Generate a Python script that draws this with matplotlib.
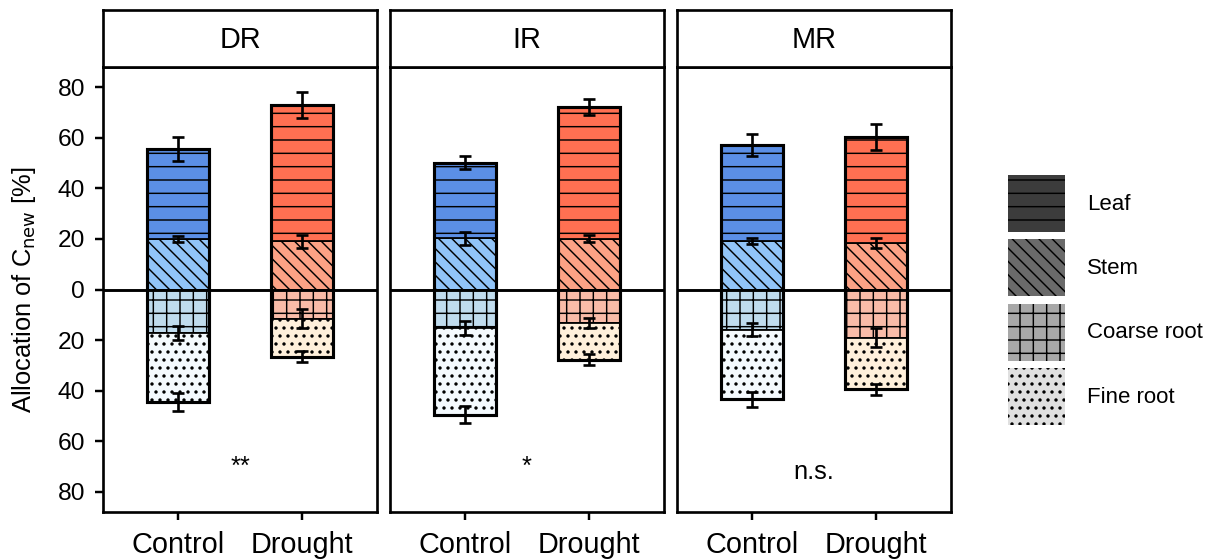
import matplotlib
matplotlib.use("Agg")
import matplotlib.pyplot as plt
import matplotlib.hatch as mhatch
from matplotlib.patches import Patch
from matplotlib.ticker import FuncFormatter

plt.rcParams['font.family'] = ['Liberation Sans', 'DejaVu Sans']
plt.rcParams['hatch.linewidth'] = 1.3


# finer dot pattern than matplotlib's default '.' hatch
class FineDots(mhatch.Circles):
    size = 0.12
    filled = True

    def __init__(self, hatch, density):
        self.num_rows = int(round(hatch.count('.') * density * 1.65))
        super().__init__(hatch, density)


mhatch._hatch_types = [FineDots if t is mhatch.SmallFilledCircles else t
                       for t in mhatch._hatch_types]

# sites (facets) and treatments
sites = ["DR", "IR", "MR"]
treatments = ["Control", "Drought"]
organs = ["Leaf", "Stem", "Coarse root", "Fine root"]
signif = ["**", "*", "n.s."]

# allocation of C_new [%] per organ, [Control, Drought]
stem = {"DR": [19.8, 19.0], "IR": [20.2, 20.0], "MR": [19.2, 18.4]}
leaf = {"DR": [35.7, 54.0], "IR": [30.0, 52.2], "MR": [37.9, 42.0]}
coarse = {"DR": [17.2, 11.5], "IR": [15.3, 13.2], "MR": [15.9, 19.0]}
fine = {"DR": [27.3, 15.0], "IR": [34.2, 14.5], "MR": [27.6, 20.5]}

# standard errors
stem_se = {"DR": [1.2, 2.4], "IR": [2.6, 1.4], "MR": [1.2, 1.8]}
leaf_se = {"DR": [4.8, 5.2], "IR": [2.5, 3.0], "MR": [4.4, 5.1]}
coarse_se = {"DR": [2.6, 3.8], "IR": [2.8, 1.9], "MR": [2.6, 3.6]}
fine_se = {"DR": [3.4, 2.3], "IR": [3.4, 2.1], "MR": [3.0, 2.3]}

# colours: [Control, Drought]
leaf_col = ["#5B8FE6", "#FF7052"]
stem_col = ["#91C4F8", "#FCA285"]
coarse_col = ["#C0DCEE", "#F9BCA8"]
fine_col = ["#F4FAFE", "#FFF0DB"]
legend_col = ["#3C3C3C", "#6A6A6A", "#A8A8A8", "#E0E0E0"]
hatches = ["-", "\\\\", "+", "."]

W, H = 1211, 560
dpi = 80
fig = plt.figure(figsize=(W / dpi, H / dpi), dpi=dpi)

panel_left = [103, 390, 677]
panel_w = 274
top_px, bot_px = 67, 512
strip_top = 10

x = [1, 2]
bw = 0.5
for i, site in enumerate(sites):
    ax = fig.add_axes([panel_left[i] / W, 1 - bot_px / H, panel_w / W, (bot_px - top_px) / H])
    sax = fig.add_axes([panel_left[i] / W, 1 - top_px / H, panel_w / W, (top_px - strip_top) / H])
    sax.set_xticks([])
    sax.set_yticks([])
    for s in sax.spines.values():
        s.set_linewidth(2.4)
    sax.text(0.5, 0.47, site, ha="center", va="center", fontsize=26, transform=sax.transAxes)

    for j in range(2):
        st, lf = stem[site][j], leaf[site][j]
        cr, fr = coarse[site][j], fine[site][j]
        ax.bar(x[j], st, bw, bottom=0, color=stem_col[j], edgecolor="black", lw=1.6, hatch=hatches[1])
        ax.bar(x[j], lf, bw, bottom=st, color=leaf_col[j], edgecolor="black", lw=1.6, hatch=hatches[0])
        ax.bar(x[j], -cr, bw, bottom=0, color=coarse_col[j], edgecolor="black", lw=1.6, hatch=hatches[2])
        ax.bar(x[j], -fr, bw, bottom=-cr, color=fine_col[j], edgecolor="black", lw=1.6, hatch=hatches[3])
        # outline of whole bar
        ax.bar(x[j], st + lf + cr + fr, bw, bottom=-(cr + fr), fill=False, edgecolor="black", lw=2.8)
        ys = [st, st + lf, -cr, -(cr + fr)]
        es = [stem_se[site][j], leaf_se[site][j], coarse_se[site][j], fine_se[site][j]]
        ax.errorbar([x[j]] * 4, ys, yerr=es, fmt="none", ecolor="black", elinewidth=2.4,
                    capsize=5.5, capthick=2.4, zorder=5)

    ax.axhline(0, color="black", lw=2.6, zorder=4)
    ax.text(1.5, -73 if signif[i] != "n.s." else -75, signif[i], ha="center", va="baseline",
            fontsize=23)
    ax.set_xlim(0.4, 2.6)
    ax.set_ylim(-88, 88)
    ax.set_xticks(x)
    ax.set_xticklabels(treatments)
    ax.set_yticks(range(-80, 81, 20))
    ax.yaxis.set_major_formatter(FuncFormatter(lambda v, p: f"{abs(int(v))}"))
    ax.tick_params(axis="both", direction="out", length=7, width=2.2, labelsize=22)
    ax.tick_params(axis="y", pad=9)
    ax.tick_params(axis="x", labelsize=26, pad=10)
    for s in ax.spines.values():
        s.set_linewidth(2.4)
    if i == 0:
        ax.set_ylabel("Allocation of C$_\\mathrm{new}$ [%]", fontsize=23, labelpad=18)
    else:
        ax.tick_params(axis="y", left=False, labelleft=False)

handles = [Patch(facecolor=legend_col[k], edgecolor="black", lw=0, hatch=hatches[k]) for k in range(4)]
fig.legend(handles, organs, loc="upper left", bbox_to_anchor=(1008 / W, 1 - 175 / H),
           frameon=False, fontsize=20, handlelength=2.57, handleheight=3.58,
           labelspacing=0.32, handletextpad=1.0, borderpad=0, borderaxespad=0)

fig.savefig("out.png", dpi=dpi)
